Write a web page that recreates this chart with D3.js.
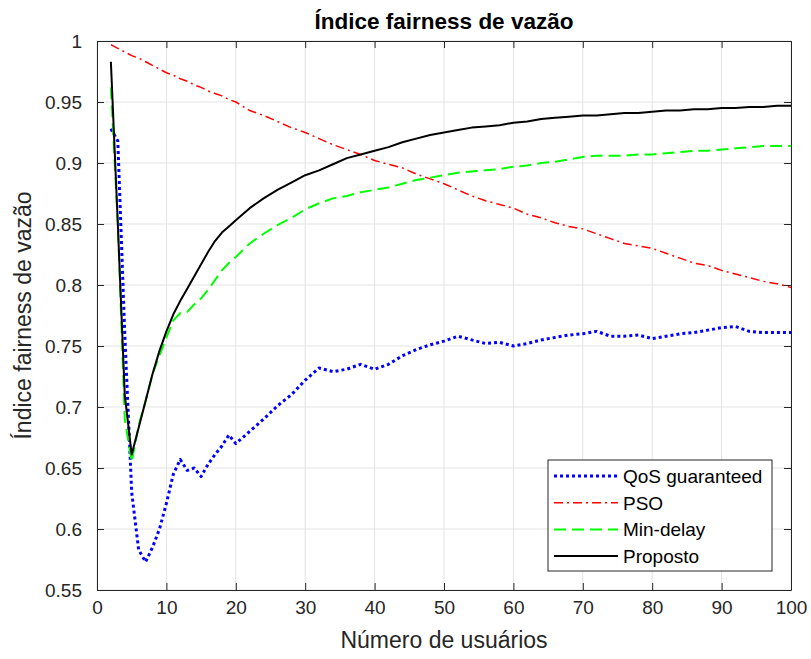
<!DOCTYPE html>
<html>
<head>
    <meta charset="utf-8">
    <title>Índice fairness de vazão</title>
    <script src="https://d3js.org/d3.v7.min.js"></script>
    <style>
        body { margin: 0; background: #fff; }
        svg { font-family: "Liberation Sans", Arial, Helvetica, sans-serif; }
    </style>
</head>
<body>
    <svg id="chart"></svg>
    <script>
        // numero de usuarios (eixo x)
        const users = [2, 3, 4, 5, 6, 7, 8, 9, 10, 11, 12, 13, 14, 15, 16, 17, 18, 19, 20,
            22, 24, 26, 28, 30, 32, 34, 36, 38, 40, 42, 44, 46, 48, 50, 52, 54, 56, 58, 60,
            62, 64, 66, 68, 70, 72, 74, 76, 78, 80, 82, 84, 86, 88, 90, 92, 94, 96, 98, 100];

        const qos = [0.928, 0.918, 0.760, 0.630, 0.583, 0.573, 0.585, 0.600, 0.621, 0.645,
            0.657, 0.648, 0.650, 0.643, 0.653, 0.661, 0.668, 0.677, 0.670,
            0.680, 0.690, 0.701, 0.710, 0.722, 0.732, 0.729, 0.731, 0.735, 0.731,
            0.735, 0.742, 0.747, 0.751, 0.754, 0.758, 0.755, 0.752, 0.753, 0.750,
            0.752, 0.755, 0.757, 0.759, 0.760, 0.762, 0.758, 0.758, 0.759, 0.756,
            0.758, 0.760, 0.761, 0.763, 0.765, 0.766, 0.762, 0.761, 0.761, 0.761];

        const pso = [0.997, 0.994, 0.991, 0.988, 0.986, 0.983, 0.980, 0.977, 0.974, 0.972,
            0.969, 0.967, 0.964, 0.962, 0.959, 0.957, 0.955, 0.952, 0.950,
            0.943, 0.939, 0.934, 0.929, 0.925, 0.920, 0.915, 0.911, 0.907, 0.902,
            0.899, 0.896, 0.891, 0.887, 0.883, 0.878, 0.873, 0.869, 0.866, 0.863,
            0.858, 0.855, 0.851, 0.848, 0.846, 0.842, 0.838, 0.834, 0.832, 0.830,
            0.826, 0.822, 0.818, 0.816, 0.812, 0.809, 0.806, 0.803, 0.801, 0.798];

        const minDelay = [0.962, 0.850, 0.690, 0.655, 0.685, 0.705, 0.727, 0.742, 0.757, 0.771,
            0.777, 0.778, 0.784, 0.789, 0.796, 0.804, 0.812, 0.818, 0.823,
            0.834, 0.842, 0.849, 0.855, 0.862, 0.867, 0.871, 0.873, 0.876, 0.878,
            0.880, 0.883, 0.886, 0.888, 0.890, 0.892, 0.893, 0.894, 0.895, 0.897,
            0.898, 0.900, 0.901, 0.903, 0.905, 0.906, 0.906, 0.906, 0.907, 0.907,
            0.908, 0.909, 0.910, 0.910, 0.911, 0.912, 0.913, 0.914, 0.914, 0.914];

        const proposto = [0.983, 0.850, 0.710, 0.661, 0.683, 0.705, 0.727, 0.746, 0.762, 0.776,
            0.787, 0.797, 0.807, 0.817, 0.827, 0.836, 0.843, 0.848, 0.853,
            0.863, 0.871, 0.878, 0.884, 0.890, 0.894, 0.899, 0.904, 0.907, 0.910,
            0.913, 0.917, 0.920, 0.923, 0.925, 0.927, 0.929, 0.930, 0.931, 0.933,
            0.934, 0.936, 0.937, 0.938, 0.939, 0.939, 0.940, 0.941, 0.941, 0.942,
            0.943, 0.943, 0.944, 0.944, 0.945, 0.945, 0.946, 0.946, 0.947, 0.947];

        const xTicks = [0, 10, 20, 30, 40, 50, 60, 70, 80, 90, 100];
        const yTicks = [0.55, 0.6, 0.65, 0.7, 0.75, 0.8, 0.85, 0.9, 0.95, 1];

        const seriesNames = ["QoS guaranteed", "PSO", "Min-delay", "Proposto"];

        const series = [
            { name: seriesNames[0], values: qos, color: "#0000ff", width: 3, dash: "3,3" },
            { name: seriesNames[1], values: pso, color: "#ff0000", width: 1.5, dash: "9,4,2,4" },
            { name: seriesNames[2], values: minDelay, color: "#00ff00", width: 2, dash: "12,6" },
            { name: seriesNames[3], values: proposto, color: "#000000", width: 2, dash: null }
        ];

        const W = 811, H = 659;
        const margin = { left: 97, right: 20, top: 41, bottom: 69 };

        const svg = d3.select('#chart')
            .attr('width', W)
            .attr('height', H);

        const x = d3.scaleLinear().domain([0, 100]).range([margin.left, W - margin.right]);
        const y = d3.scaleLinear().domain([0.55, 1]).range([H - margin.bottom, margin.top]);

        // grade
        svg.append('g')
            .selectAll('line.gx')
            .data(xTicks)
            .join('line')
            .attr('x1', d => x(d)).attr('x2', d => x(d))
            .attr('y1', y(0.55)).attr('y2', y(1))
            .attr('stroke', '#e3e3e3').attr('stroke-width', 1);

        svg.append('g')
            .selectAll('line.gy')
            .data(yTicks)
            .join('line')
            .attr('x1', x(0)).attr('x2', x(100))
            .attr('y1', d => y(d)).attr('y2', d => y(d))
            .attr('stroke', '#e3e3e3').attr('stroke-width', 1);

        // eixos
        const axisColor = '#262626';
        const xAxis = svg.append('g')
            .attr('transform', `translate(0,${y(0.55)})`)
            .call(d3.axisBottom(x).tickValues(xTicks).tickSizeInner(-7).tickSizeOuter(0).tickPadding(11));
        const yAxis = svg.append('g')
            .attr('transform', `translate(${x(0)},0)`)
            .call(d3.axisLeft(y).tickValues(yTicks).tickSizeInner(-7).tickSizeOuter(0).tickPadding(15)
                .tickFormat(d => d3.format('')(+d.toFixed(2))));
        const xTop = svg.append('g')
            .attr('transform', `translate(0,${y(1)})`)
            .call(d3.axisTop(x).tickValues(xTicks).tickSizeInner(-7).tickSizeOuter(0).tickFormat(''));
        const yRight = svg.append('g')
            .attr('transform', `translate(${x(100)},0)`)
            .call(d3.axisRight(y).tickValues(yTicks).tickSizeInner(-7).tickSizeOuter(0).tickFormat(''));

        [xAxis, yAxis, xTop, yRight].forEach(g => {
            g.selectAll('path.domain').attr('stroke', axisColor).attr('stroke-width', 1);
            g.selectAll('.tick line').attr('stroke', axisColor);
            g.selectAll('text')
                .attr('fill', axisColor)
                .attr('font-size', 19)
                .attr('font-family', '"Liberation Sans", Arial, sans-serif');
        });

        // linhas
        const line = d3.line()
            .x((d, i) => x(users[i]))
            .y(d => y(d));

        series.forEach(s => {
            svg.append('path')
                .datum(s.values)
                .attr('d', line)
                .attr('fill', 'none')
                .attr('stroke', s.color)
                .attr('stroke-width', s.width)
                .attr('stroke-dasharray', s.dash)
                .attr('stroke-linejoin', 'round');
        });

        // titulo e rotulos
        svg.append('text')
            .attr('x', (x(0) + x(100)) / 2)
            .attr('y', 29)
            .attr('text-anchor', 'middle')
            .attr('font-size', 22.5)
            .attr('font-weight', 'bold')
            .attr('fill', '#000')
            .text('Índice fairness de vazão');

        svg.append('text')
            .attr('x', (x(0) + x(100)) / 2)
            .attr('y', 648)
            .attr('text-anchor', 'middle')
            .attr('font-size', 23)
            .attr('fill', axisColor)
            .text('Número de usuários');

        svg.append('text')
            .attr('transform', `translate(31,${(y(0.55) + y(1)) / 2}) rotate(-90)`)
            .attr('text-anchor', 'middle')
            .attr('font-size', 23)
            .attr('fill', axisColor)
            .text('Índice fairness de vazão');

        // legenda
        const legend = svg.append('g').attr('transform', 'translate(548,460)');
        legend.append('rect')
            .attr('width', 224).attr('height', 111)
            .attr('fill', '#fff')
            .attr('stroke', axisColor).attr('stroke-width', 1);

        const rows = legend.selectAll('g.row')
            .data(series)
            .join('g')
            .attr('transform', (d, i) => `translate(0,${16 + i * 26.7})`);

        rows.append('line')
            .attr('x1', 6).attr('x2', 70)
            .attr('stroke', d => d.color)
            .attr('stroke-width', d => d.width)
            .attr('stroke-dasharray', d => d.dash);

        rows.append('text')
            .attr('x', 75)
            .attr('y', 7)
            .attr('font-size', 19)
            .attr('fill', '#000')
            .text(d => d.name);
    </script>
</body>
</html>
